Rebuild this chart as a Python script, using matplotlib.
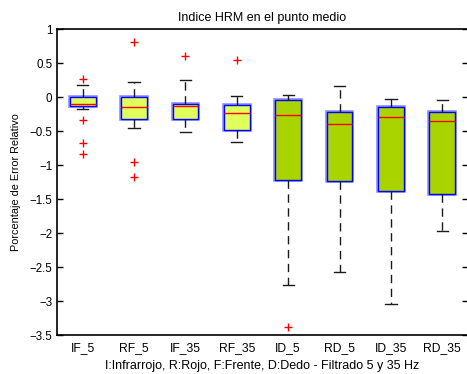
import matplotlib
matplotlib.use("Agg")
import matplotlib.pyplot as plt
import matplotlib.patheffects as pe

plt.rcParams['font.family'] = ['Liberation Sans', 'DejaVu Sans']

categories = ["IF_5", "RF_5", "IF_35", "RF_35", "ID_5", "RD_5", "ID_35", "RD_35"]
whisker_low = [-0.18, -0.45, -0.52, -0.66, -2.77, -2.58, -3.04, -1.975]
q1 = [-0.13, -0.32, -0.32, -0.48, -1.22, -1.24, -1.38, -1.43]
median = [-0.10, -0.15, -0.13, -0.24, -0.27, -0.40, -0.29, -0.35]
q3 = [0.0, 0.0, -0.10, -0.12, -0.05, -0.22, -0.14, -0.22]
whisker_high = [0.17, 0.22, 0.245, 0.02, 0.03, 0.16, -0.03, -0.04]
outliers = [[0.26, -0.34, -0.68, -0.84], [0.81, -0.96, -1.18], [0.60], [0.55],
            [-3.38], [], [], []]
box_colors = ["#e0ff5a"] * 4 + ["#aad400"] * 4

stats = []
for i, c in enumerate(categories):
    stats.append(dict(label=c, whislo=whisker_low[i], q1=q1[i], med=median[i],
                      q3=q3[i], whishi=whisker_high[i], fliers=outliers[i]))

fig = plt.figure(figsize=(4.67, 3.74), dpi=100)
ax = fig.add_axes([57/467, 39/374, 411/467, 306/374])

bp = ax.bxp(stats, positions=range(1, 9), widths=0.5, patch_artist=True,
            showfliers=True,
            boxprops=dict(edgecolor="#0000ff", linewidth=1.0),
            medianprops=dict(color="#ff0000", linewidth=1.0),
            whiskerprops=dict(color="#1a1a1a", linewidth=1.0, linestyle=(0, (6, 4))),
            capprops=dict(color="#1a1a1a", linewidth=1.0),
            capwidths=0.22,
            flierprops=dict(marker="+", markeredgecolor="#ff0000", markersize=6,
                            markeredgewidth=1.0, linestyle="none"))
for patch, col in zip(bp["boxes"], box_colors):
    patch.set_facecolor(col)
    patch.set_path_effects([pe.Stroke(linewidth=2.6, foreground="#8c8cff"), pe.Normal()])

ax.set_xlim(0.5, 8.5)
ax.set_ylim(-3.5, 1)
ax.set_yticks([1, 0.5, 0, -0.5, -1, -1.5, -2, -2.5, -3, -3.5])
ax.set_yticklabels(["1", "0.5", "0", "\u22120.5", "\u22121", "\u22121.5", "\u22122",
                    "\u22122.5", "\u22123", "\u22123.5"])
ax.set_xticks(range(1, 9))
ax.set_xticklabels(categories)
ax.tick_params(axis="y", direction="in", right=True, length=4, labelsize=8.3, width=1)
ax.tick_params(axis="x", length=0, labelsize=8.7, pad=5)
for s in ax.spines.values():
    s.set_linewidth(1.2)

ax.set_title("Indice HRM en el punto medio", fontsize=9, pad=6)
ax.set_ylabel("Porcentaje de Error Relativo", fontsize=7.8, labelpad=6)
ax.set_xlabel("I:Infrarrojo, R:Rojo, F:Frente, D:Dedo - Filtrado 5 y 35 Hz", fontsize=9, labelpad=4)

fig.savefig("out.png", dpi=100)
